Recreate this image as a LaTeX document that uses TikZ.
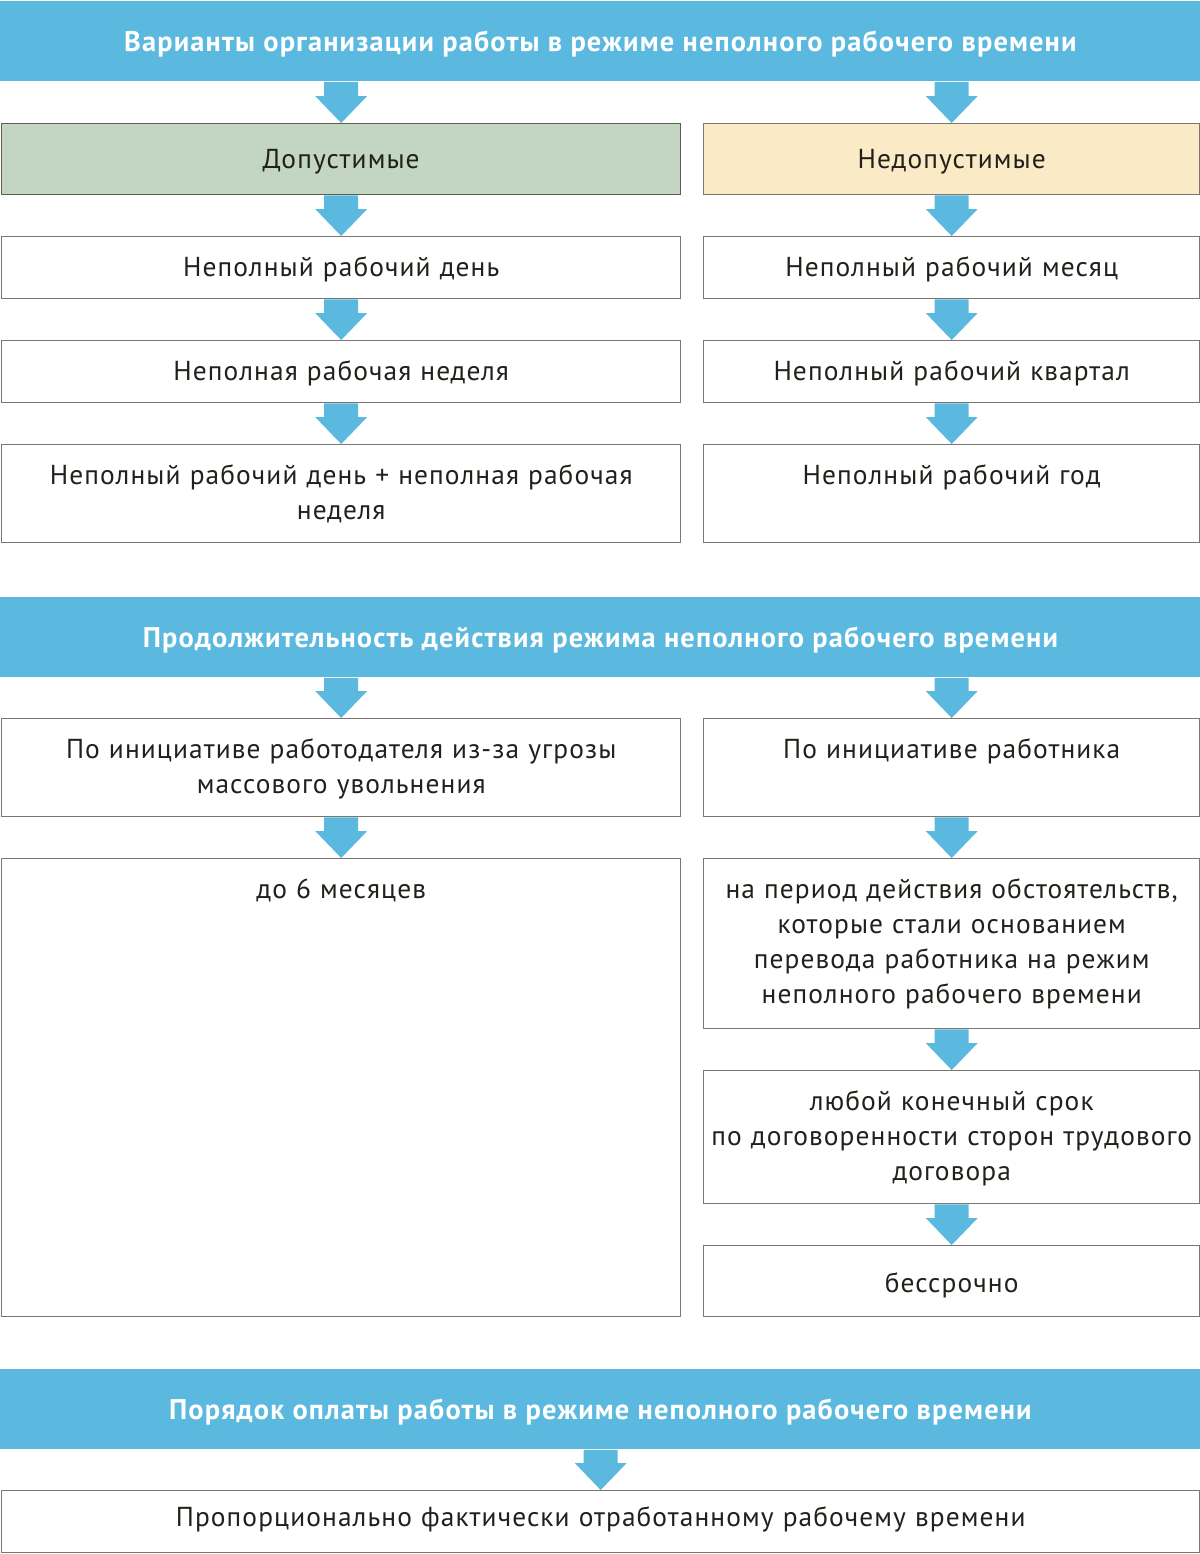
\documentclass[tikz,border=0pt]{standalone}
\usepackage{fontspec}
\setmainfont{PT Sans}[LetterSpace=4]
\usetikzlibrary{calc}
\definecolor{capblue}{HTML}{5BB8DF}
\definecolor{okgreen}{HTML}{C2D6C1}
\definecolor{greenframe}{HTML}{5C5C50}
\definecolor{noyellow}{HTML}{FAEAC6}
\definecolor{framegray}{HTML}{7A776F}
\definecolor{inkdark}{HTML}{231F1A}

% wide blue arrow from one node down to the next
\newcommand{\flowdown}[2]{%
  \fill[capblue] let \p1=(#1.south), \p2=(#2.north) in
    (\x2-8.5pt,\y1) -- (\x2+8.5pt,\y1) -- (\x2+8.5pt,\y2+13.5pt)
    -- (\x2+13pt,\y2+13.5pt) -- (\x2,\y2) -- (\x2-13pt,\y2+13.5pt)
    -- (\x2-8.5pt,\y2+13.5pt) -- cycle;}

\begin{document}
\begin{tikzpicture}[
    x=0.5pt, y=-0.5pt,
    header/.style={fill=capblue, text=white, anchor=north west, inner sep=0pt,
      minimum width=600pt, minimum height=40pt,
      text height=10pt, text depth=0pt,
      font=\fontsize{14.2}{17}\selectfont\bfseries},
    box/.style={draw=framegray, line width=0.7pt, anchor=north west,
      inner sep=0pt, align=center, text=inkdark,
      text height=20pt, text depth=11pt,
      font=\fontsize{13.7}{17.5}\selectfont},
    lbox/.style={box, text width=339.5pt},
    rbox/.style={box, text width=248pt}
]
    \useasboundingbox (0,0) rectangle (1200,1554);

    % Variants
    \node[header] (variants) at (0,1)
      {Варианты организации работы в режиме неполного рабочего времени};
    \node[lbox, fill=okgreen, draw=greenframe, text height=22.5pt, text depth=13pt]
      (allowed) at (1,123) {Допустимые};
    \node[rbox, fill=noyellow, text height=22.5pt, text depth=13pt]
      (forbidden) at (703,123) {Недопустимые};
    \node[lbox] (partday) at (1,236) {Неполный рабочий день};
    \node[rbox] (partmonth) at (703,236) {Неполный рабочий месяц};
    \node[lbox] (partweek) at (1,340) {Неполная рабочая неделя};
    \node[rbox] (partquarter) at (703,340) {Неполный рабочий квартал};
    \node[lbox, text depth=29pt] (daywithweek) at (1,444)
      {Неполный рабочий день + неполная рабочая\\неделя};
    \node[rbox, text depth=29pt] (partyear) at (703,444) {Неполный рабочий год};

    % Duration
    \node[header] (duration) at (0,597)
      {Продолжительность действия режима неполного рабочего времени};
    \node[lbox, text depth=29pt] (employer) at (1,718)
      {По инициативе работодателя из-за угрозы\\массового увольнения};
    \node[rbox, text depth=29pt] (employee) at (703,718) {По инициативе работника};
    \node[lbox, text depth=209pt] (sixmonths) at (1,858) {до 6 месяцев};
    \node[rbox, text depth=65pt] (circumstances) at (703,858)
      {на период действия обстоятельств,\\которые стали основанием\\перевода работника на режим\\неполного рабочего времени};
    \node[rbox, text depth=46.5pt] (anyterm) at (703,1070)
      {любой конечный срок\\по договоренности сторон трудового\\договора};
    \node[rbox, text height=23.5pt, text depth=12pt] (indefinite) at (703,1245) {бессрочно};

    % Payment
    \node[header] (payment) at (0,1369)
      {Порядок оплаты работы в режиме неполного рабочего времени};
    \node[box, text width=599pt, text height=18pt, text depth=13pt]
      (proportional) at (1,1490)
      {Пропорционально фактически отработанному рабочему времени};

    % Arrows
    \flowdown{variants}{allowed}
    \flowdown{variants}{forbidden}
    \flowdown{allowed}{partday}
    \flowdown{partday}{partweek}
    \flowdown{partweek}{daywithweek}
    \flowdown{forbidden}{partmonth}
    \flowdown{partmonth}{partquarter}
    \flowdown{partquarter}{partyear}
    \flowdown{duration}{employer}
    \flowdown{duration}{employee}
    \flowdown{employer}{sixmonths}
    \flowdown{employee}{circumstances}
    \flowdown{circumstances}{anyterm}
    \flowdown{anyterm}{indefinite}
    \flowdown{payment}{proportional}
\end{tikzpicture}
\end{document}
